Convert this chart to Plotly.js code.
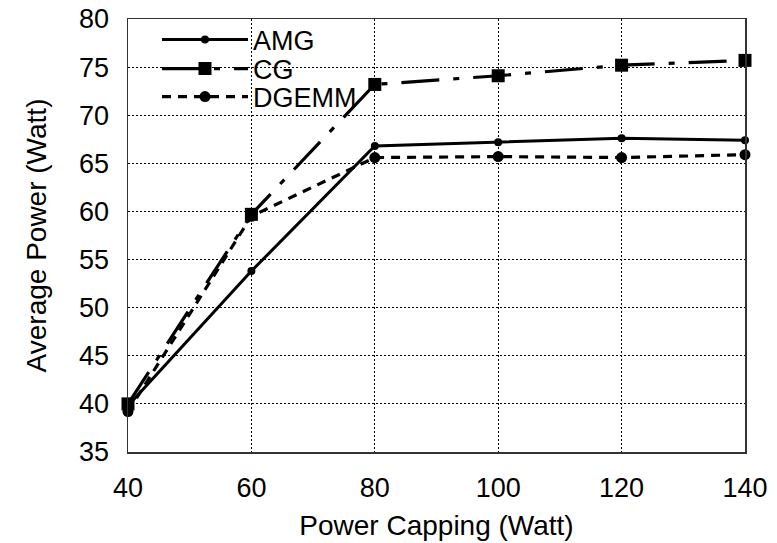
<!DOCTYPE html>
<html>
<head>
<meta charset="utf-8">
<script src="https://cdn.plot.ly/plotly-3.0.1.min.js"></script>
<style>html,body{margin:0;padding:0;background:#fff;}#chart{width:777px;height:543px;}</style>
</head>
<body>
<div id="chart"></div>
<script>
const powerCap = [40, 60, 80, 100, 120, 140];
const amg   = [39.8, 53.8, 66.8, 67.2, 67.6, 67.4];
const cg    = [40.0, 59.7, 73.2, 74.1, 75.2, 75.7];
const dgemm = [39.2, 59.5, 65.6, 65.7, 65.6, 65.9];
const seriesNames = ['AMG', 'CG', 'DGEMM'];
const xTicks = [40, 60, 80, 100, 120, 140];
const yTicks = [35, 40, 45, 50, 55, 60, 65, 70, 75, 80];

const font = 'Liberation Sans, Arial, Helvetica, sans-serif';
const traces = [
  {x: powerCap, y: amg, name: seriesNames[0], mode: 'lines+markers', cliponaxis: false, legend: 'legend',
   line: {color: '#000', width: 3, dash: 'solid'},
   marker: {symbol: 'circle', size: 8, color: '#000'}},
  {x: powerCap, y: cg, name: seriesNames[1], mode: 'lines+markers', cliponaxis: false, legend: 'legend2',
   line: {color: '#000', width: 3.2, dash: '38px,14px,6px,14px'},
   marker: {symbol: 'square', size: 13, color: '#000'}},
  {x: powerCap, y: dgemm, name: seriesNames[2], mode: 'lines+markers', cliponaxis: false, legend: 'legend3',
   line: {color: '#000', width: 3.2, dash: '9px,7px'},
   marker: {symbol: 'circle', size: 11, color: '#000'}}
];

function leg(y) {
  return {x: 0.047, y: y, xanchor: 'left', yanchor: 'middle', bgcolor: 'rgba(0,0,0,0)',
          borderwidth: 0, itemwidth: 86, font: {family: font, size: 27, color: '#000'}};
}

const layout = {
  width: 777, height: 543,
  margin: {l: 128, r: 32, t: 19, b: 91, pad: 0},
  paper_bgcolor: '#fff', plot_bgcolor: '#fff',
  font: {family: font, color: '#000', size: 27},
  showlegend: true,
  legend: leg(0.9515),
  legend2: leg(0.8845),
  legend3: leg(0.8199),
  xaxis: {range: [40, 140], tickvals: xTicks, ticktext: xTicks.map(String),
          showline: true, linecolor: '#333', linewidth: 1.5, mirror: true,
          showgrid: true, gridcolor: '#000', gridwidth: 1, griddash: '2px,2px',
          zeroline: false, ticks: '', ticklabelstandoff: 11,
          tickfont: {family: font, size: 27, color: '#000'},
          title: {text: 'Power Capping (Watt)', font: {family: font, size: 28, color: '#000'}, standoff: 13}},
  yaxis: {range: [35, 80], tickvals: yTicks, ticktext: yTicks.map(String),
          showline: true, linecolor: '#333', linewidth: 1.5, mirror: true,
          showgrid: true, gridcolor: '#000', gridwidth: 1, griddash: '2px,2px',
          zeroline: false, ticks: '', ticklabelstandoff: 12,
          tickfont: {family: font, size: 27, color: '#000'},
          title: {text: 'Average Power (Watt)', font: {family: font, size: 28, color: '#000'}, standoff: 24}}
};
Plotly.newPlot('chart', traces, layout, {displayModeBar: false, staticPlot: true});
</script>
</body>
</html>
